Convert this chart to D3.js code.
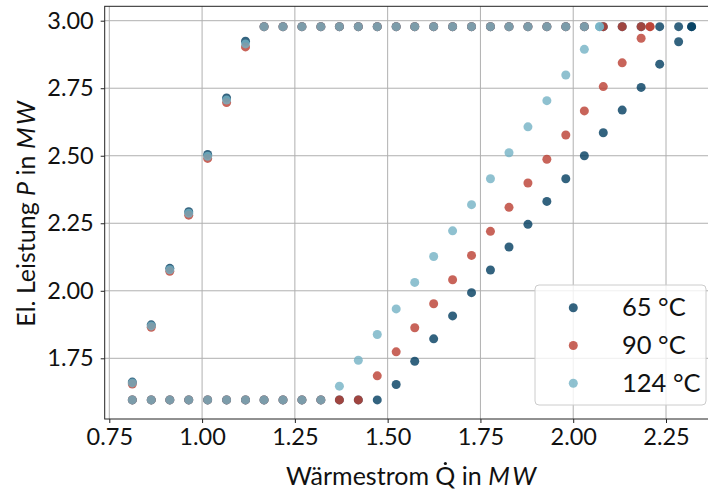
<!DOCTYPE html>
<html>
<head>
<meta charset="utf-8">
<script src="https://cdn.jsdelivr.net/npm/d3@7"></script>
<style>
  body { margin: 0; background: #fff; }
  svg { display: block; font-family: Lato, "DejaVu Sans", sans-serif; }
</style>
</head>
<body>
<svg id="chart"></svg>
<script>
// heat flow Q (MW) on the regular grid
var qGrid = [0.812, 0.863, 0.913, 0.964, 1.015, 1.066, 1.117, 1.167, 1.218, 1.269,
             1.320, 1.370, 1.421, 1.472, 1.523, 1.573, 1.624, 1.675, 1.726, 1.777,
             1.827, 1.878, 1.929, 1.980, 2.030, 2.081, 2.132, 2.183, 2.233, 2.284];

var seriesNames = ['65 °C', '90 °C', '124 °C'];
var seriesColors = ['#003c5f', '#ba3d31', '#73b1c4'];

// last point of every series (max heat flow)
var qEnd = [2.319, 2.207, 2.071];

// upper branch, el. power P (MW), one value per grid point up to the end
var p65Upper = [1.662, 1.874, 2.083, 2.293, 2.505, 2.714, 2.924, 2.978, 2.978, 2.978,
                2.978, 2.978, 2.978, 2.978, 2.978, 2.978, 2.978, 2.978, 2.978, 2.978,
                2.978, 2.978, 2.978, 2.978, 2.978, 2.978, 2.978, 2.978, 2.978, 2.978];
var p90Upper = [1.655, 1.865, 2.072, 2.280, 2.490, 2.697, 2.903, 2.978, 2.978, 2.978,
                2.978, 2.978, 2.978, 2.978, 2.978, 2.978, 2.978, 2.978, 2.978, 2.978,
                2.978, 2.978, 2.978, 2.978, 2.978, 2.978, 2.978, 2.978];
var p124Upper = [1.659, 1.870, 2.078, 2.287, 2.498, 2.706, 2.914, 2.978, 2.978, 2.978,
                 2.978, 2.978, 2.978, 2.978, 2.978, 2.978, 2.978, 2.978, 2.978, 2.978,
                 2.978, 2.978, 2.978, 2.978, 2.978];

// lower branch
var p65Lower = [1.596, 1.596, 1.596, 1.596, 1.596, 1.596, 1.596, 1.596, 1.596, 1.596,
                1.596, 1.596, 1.596, 1.596, 1.653, 1.739, 1.822, 1.907, 1.993, 2.077,
                2.162, 2.246, 2.331, 2.415, 2.500, 2.585, 2.669, 2.753, 2.839, 2.922];
var p90Lower = [1.596, 1.596, 1.596, 1.596, 1.596, 1.596, 1.596, 1.596, 1.596, 1.596,
                1.596, 1.596, 1.596, 1.685, 1.774, 1.863, 1.952, 2.041, 2.131, 2.220,
                2.309, 2.399, 2.487, 2.577, 2.666, 2.756, 2.844, 2.935];
var p124Lower = [1.596, 1.596, 1.596, 1.596, 1.596, 1.596, 1.596, 1.596, 1.596, 1.596,
                 1.596, 1.647, 1.743, 1.838, 1.933, 2.031, 2.127, 2.222, 2.319, 2.415,
                 2.511, 2.607, 2.704, 2.799, 2.894];

var pEnd = [2.978, 2.978, 2.978];

var xTicks = [0.75, 1.00, 1.25, 1.50, 1.75, 2.00, 2.25];
var yTicks = [1.75, 2.00, 2.25, 2.50, 2.75, 3.00];

var W = 708, H = 493;
var plotLeft = 104.7, plotTop = 6.3, plotRight = 720, plotBottom = 419;
var tickSize = 23.5, labelSize = 25, legendSize = 25.5;

var svg = d3.select('#chart').attr('width', W).attr('height', H);

var x = d3.scaleLinear().domain([0.7376, 2.3955]).range([plotLeft, plotRight]);
var y = d3.scaleLinear().domain([1.5253, 3.0533]).range([plotBottom, plotTop]);

// grid
svg.append('g').selectAll('line').data(xTicks).enter().append('line')
  .attr('x1', function(d){ return x(d); }).attr('x2', function(d){ return x(d); })
  .attr('y1', plotTop).attr('y2', plotBottom)
  .attr('stroke', '#b0b0b0').attr('stroke-width', 1);
svg.append('g').selectAll('line').data(yTicks).enter().append('line')
  .attr('y1', function(d){ return y(d); }).attr('y2', function(d){ return y(d); })
  .attr('x1', plotLeft).attr('x2', plotRight)
  .attr('stroke', '#b0b0b0').attr('stroke-width', 1);

// axes
var xAxis = d3.axisBottom(x).tickValues(xTicks).tickFormat(d3.format('.2f'))
  .tickSize(4).tickPadding(5);
var yAxis = d3.axisLeft(y).tickValues(yTicks).tickFormat(d3.format('.2f'))
  .tickSize(4).tickPadding(7);

var gx = svg.append('g').attr('transform', 'translate(0,' + plotBottom + ')').call(xAxis);
var gy = svg.append('g').attr('transform', 'translate(' + plotLeft + ',0)').call(yAxis);
[gx, gy].forEach(function(g){
  g.select('.domain').remove();
  g.selectAll('line').attr('stroke', '#222').attr('stroke-width', 1);
  g.selectAll('text').attr('fill', '#111').style('font-size', tickSize + 'px')
    .style('font-family', 'Lato');
});

// frame
svg.append('rect')
  .attr('x', plotLeft).attr('y', plotTop)
  .attr('width', plotRight - plotLeft).attr('height', plotBottom - plotTop)
  .attr('fill', 'none').attr('stroke', '#222').attr('stroke-width', 1);

// points
var uppers = [p65Upper, p90Upper, p124Upper];
var lowers = [p65Lower, p90Lower, p124Lower];
var r = 4.5;

seriesNames.forEach(function(name, s){
  var pts = [];
  uppers[s].forEach(function(p, i){ pts.push([qGrid[i], p]); });
  lowers[s].forEach(function(p, i){ pts.push([qGrid[i], p]); });
  pts.push([qEnd[s], pEnd[s]]);
  pts.push([qEnd[s], pEnd[s]]);

  svg.append('g').selectAll('circle').data(pts).enter().append('circle')
    .attr('cx', function(d){ return x(d[0]); })
    .attr('cy', function(d){ return y(d[1]); })
    .attr('r', r)
    .attr('fill', seriesColors[s])
    .attr('fill-opacity', 0.8);
});

// axis labels
var xBase = 485;
var xl = svg.append('text')
  .attr('x', (plotLeft + plotRight) / 2).attr('y', xBase)
  .attr('text-anchor', 'middle')
  .style('font-size', labelSize + 'px').attr('fill', '#111');
xl.append('tspan').text('Wärmestrom ');
xl.append('tspan').text('Q');
xl.append('tspan').text(' in ');
xl.append('tspan').style('font-style', 'italic').style('letter-spacing', '2.5px').text('MW');

var qBox = xl.node().getExtentOfChar(11);
svg.append('circle')
  .attr('cx', qBox.x + qBox.width / 2)
  .attr('cy', xBase - 0.72 * labelSize - 3.5)
  .attr('r', 1.6)
  .attr('fill', '#111');

var yl = svg.append('text')
  .attr('transform', 'translate(35,' + ((plotTop + plotBottom) / 2) + ') rotate(-90)')
  .attr('text-anchor', 'middle')
  .style('font-size', labelSize + 'px').attr('fill', '#111');
yl.append('tspan').text('El. Leistung ');
yl.append('tspan').style('font-style', 'italic').text('P');
yl.append('tspan').text(' in ');
yl.append('tspan').style('font-style', 'italic').style('letter-spacing', '2.5px').text('MW');

// legend
var lg = svg.append('g');
lg.append('rect')
  .attr('x', 535).attr('y', 285).attr('width', 171).attr('height', 120)
  .attr('rx', 4).attr('ry', 4)
  .attr('fill', '#fff').attr('fill-opacity', 0.8)
  .attr('stroke', '#cccccc').attr('stroke-width', 1);

seriesNames.forEach(function(name, s){
  var cy = 307.7 + s * 37.8;
  lg.append('circle')
    .attr('cx', 573.3).attr('cy', cy).attr('r', r)
    .attr('fill', seriesColors[s]).attr('fill-opacity', 0.8);
  lg.append('text')
    .attr('x', 622).attr('y', cy + 8.5)
    .style('font-size', legendSize + 'px').attr('fill', '#111')
    .text(name);
});
</script>
</body>
</html>
